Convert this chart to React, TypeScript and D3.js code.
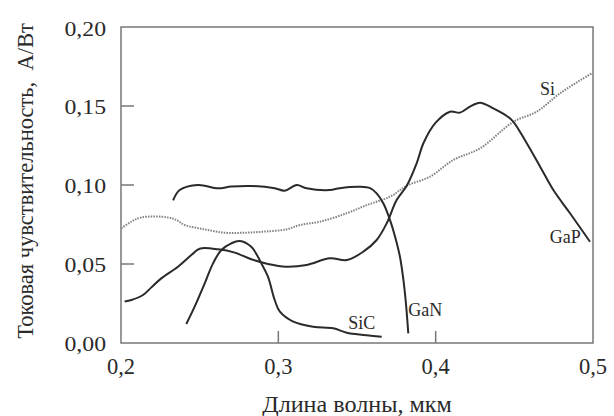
import React from "react";
import * as d3 from "d3";

const xTicks = [0.2, 0.3, 0.4, 0.5];
const yTicks = [0.0, 0.05, 0.1, 0.15, 0.2];
const xTitle = "Длина волны, мкм";
const yTitle = "Токовая чувствительность,  А/Вт";

// [wavelength (мкм), sensitivity (A/W)]
const siData: [number, number][] = [
  [0.2002, 0.0726], [0.2066, 0.0768], [0.213, 0.0795], [0.2299, 0.0795], [0.2352, 0.0778],
  [0.2405, 0.0747], [0.2532, 0.0719], [0.2659, 0.0698], [0.2786, 0.0698], [0.2913, 0.0705],
  [0.3051, 0.0719], [0.3138, 0.0747], [0.3265, 0.0768], [0.3435, 0.0821], [0.3562, 0.0873],
  [0.371, 0.0926], [0.3816, 0.0995], [0.3964, 0.1053], [0.4112, 0.1158], [0.4282, 0.1232],
  [0.4494, 0.14], [0.4642, 0.1464], [0.479, 0.158], [0.4992, 0.1707],
];

const gapData: [number, number][] = [
  [0.2023, 0.0262], [0.2066, 0.0272], [0.214, 0.0304], [0.2193, 0.0352], [0.2256, 0.0409],
  [0.2362, 0.0483], [0.2447, 0.0557], [0.25, 0.0597], [0.2617, 0.0593], [0.2723, 0.0572],
  [0.2828, 0.053], [0.2934, 0.05], [0.3051, 0.0483], [0.318, 0.0494], [0.3328, 0.0536],
  [0.3435, 0.0525], [0.354, 0.0578], [0.3625, 0.0652], [0.3689, 0.0758], [0.3752, 0.0905],
  [0.3816, 0.0995], [0.3879, 0.1137], [0.3922, 0.1264], [0.3996, 0.139], [0.4091, 0.1464],
  [0.4155, 0.1458], [0.4218, 0.1496], [0.4282, 0.1521], [0.4366, 0.1485], [0.4452, 0.1437],
  [0.4494, 0.14], [0.4579, 0.1264], [0.4664, 0.1116], [0.4748, 0.0968], [0.4854, 0.0821],
  [0.4981, 0.0641],
];

const ganData: [number, number][] = [
  [0.2331, 0.0902], [0.2373, 0.0968], [0.249, 0.1], [0.2617, 0.0979], [0.27, 0.099],
  [0.283, 0.0994], [0.2977, 0.098], [0.304, 0.0964], [0.3117, 0.1], [0.318, 0.0979],
  [0.3328, 0.0968], [0.339, 0.098], [0.352, 0.0989], [0.3583, 0.098], [0.3625, 0.0947],
  [0.3667, 0.0884], [0.371, 0.0778], [0.3742, 0.0673], [0.3773, 0.0546], [0.3795, 0.0399],
  [0.3811, 0.0251], [0.3826, 0.0061],
];

const sicData: [number, number][] = [
  [0.2415, 0.012], [0.2468, 0.023], [0.2532, 0.0378], [0.2585, 0.0504], [0.2638, 0.0589],
  [0.2701, 0.0631], [0.2754, 0.0646], [0.2828, 0.0609], [0.2892, 0.0504], [0.2934, 0.042],
  [0.2977, 0.0272], [0.301, 0.0198], [0.3095, 0.0135], [0.3222, 0.0103], [0.3349, 0.0093],
  [0.3435, 0.0065], [0.354, 0.0051], [0.3657, 0.004],
];

const curveLabels = [
  { text: "Si", x: 0.4663, y: 0.157 },
  { text: "GaP", x: 0.4725, y: 0.0633 },
  { text: "GaN", x: 0.3826, y: 0.0171 },
  { text: "SiC", x: 0.3445, y: 0.0088 },
];

export default function App() {
  const W = 614, H = 416;
  const m = { left: 121, right: 21, top: 27, bottom: 73 };
  const x = d3.scaleLinear().domain([0.2, 0.5]).range([m.left, W - m.right]);
  const y = d3.scaleLinear().domain([0, 0.2]).range([H - m.bottom, m.top]);
  const line = d3
    .line<[number, number]>()
    .x((d) => x(d[0]))
    .y((d) => y(d[1]))
    .curve(d3.curveCatmullRom.alpha(0.5));

  const font = "'Liberation Serif', 'Times New Roman', serif";
  const ink = "#2a2a2a";
  const solid = [gapData, ganData, sicData];

  return (
    <svg
      width={W}
      height={H}
      style={{ position: "absolute", left: 0, top: 0, background: "#fff" }}
      fontFamily={font}
    >
      <rect x={0} y={0} width={W} height={H} fill="#fff" />
      {/* inner ticks */}
      {yTicks.slice(1, -1).map((t) => (
        <line key={"yt" + t} x1={x(0.2)} x2={x(0.2) + 13} y1={y(t)} y2={y(t)} stroke="#777" strokeWidth={1.5} />
      ))}
      {xTicks.slice(1, -1).map((t) => (
        <line key={"xt" + t} x1={x(t)} x2={x(t)} y1={y(0)} y2={y(0) - 12} stroke="#777" strokeWidth={1.5} />
      ))}
      {/* frame */}
      <rect
        x={x(0.2)}
        y={y(0.2)}
        width={x(0.5) - x(0.2)}
        height={y(0) - y(0.2)}
        fill="none"
        stroke="#777"
        strokeWidth={1.5}
      />
      {/* curves */}
      <path d={line(siData) || ""} fill="none" stroke="#808080" strokeWidth={2} strokeDasharray="1.5 1.2" />
      {solid.map((s, i) => (
        <path key={i} d={line(s) || ""} fill="none" stroke={ink} strokeWidth={2} strokeLinejoin="round" />
      ))}
      {/* curve labels */}
      {curveLabels.map((l) => (
        <text key={l.text} x={x(l.x)} y={y(l.y)} fontSize={18} fill={ink}>
          {l.text}
        </text>
      ))}
      {/* tick labels */}
      {yTicks.map((t) => (
        <text
          key={"yl" + t}
          transform={`translate(106, ${y(t) + (t === 0.2 ? 1.5 : 0)}) scale(1.08, 1)`}
          dy="0.35em"
          textAnchor="end"
          fontSize={22}
          fill={ink}
        >
          {d3.format(".2f")(t).replace(".", ",")}
        </text>
      ))}
      {xTicks.map((t) => (
        <text key={"xl" + t} x={x(t)} y={374} textAnchor="middle" fontSize={22.5} fill={ink}>
          {d3.format(".1f")(t).replace(".", ",")}
        </text>
      ))}
      {/* axis titles */}
      <text
        transform={`translate(${(x(0.2) + x(0.5)) / 2}, 412) scale(1.05, 1)`}
        textAnchor="middle"
        fontSize={23}
        fill={ink}
      >
        {xTitle}
      </text>
      <text
        transform={`translate(33, ${181}) rotate(-90)`}
        textAnchor="middle"
        fontSize={22.5}
        fill={ink}
        style={{ whiteSpace: "pre" }}
      >
        {yTitle}
      </text>
    </svg>
  );
}
